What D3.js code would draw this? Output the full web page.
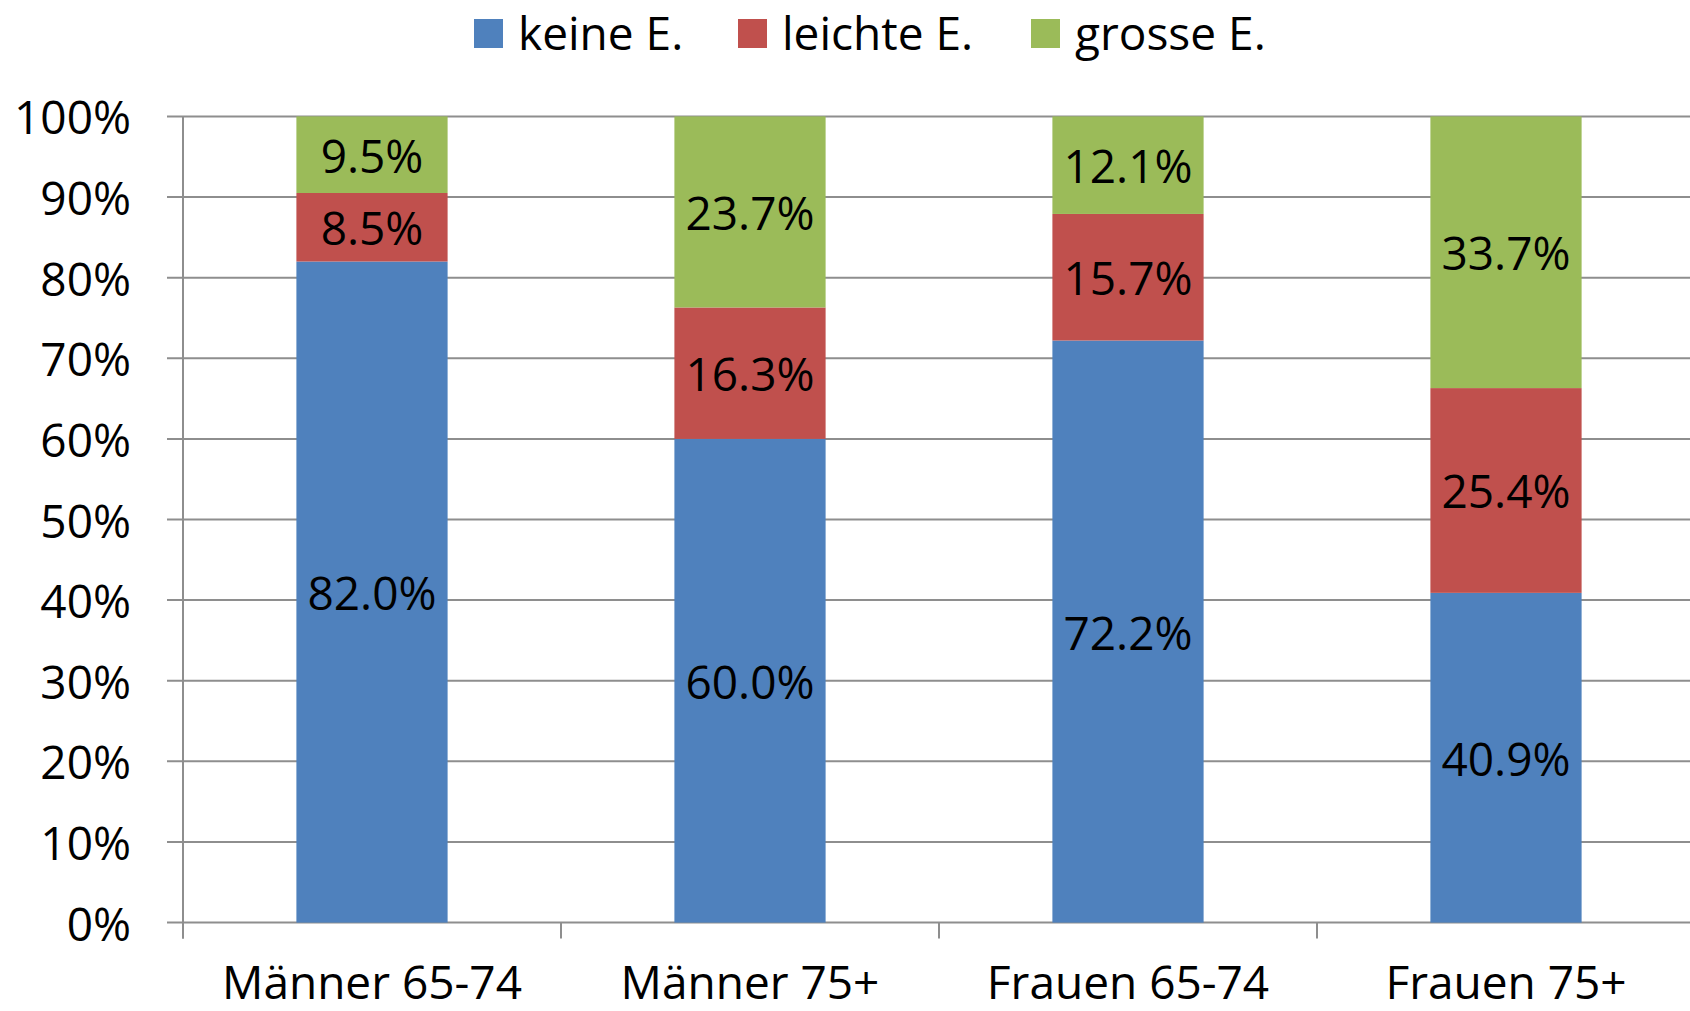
<!DOCTYPE html>
<html><head><meta charset="utf-8">
<script src="https://cdn.jsdelivr.net/npm/d3@7"></script>
<style>html,body{margin:0;padding:0;background:#fff;overflow:hidden}</style>
</head><body>
<svg id="c" width="1690" height="1011"></svg>
<script>
const categories = ["Männer 65-74", "Männer 75+", "Frauen 65-74", "Frauen 75+"];
const seriesNames = ["keine E.", "leichte E.", "grosse E."];
const keine = [82.0, 60.0, 72.2, 40.9];
const leichte = [8.5, 16.3, 15.7, 25.4];
const grosse = [9.5, 23.7, 12.1, 33.7];
const yTicks = [0, 10, 20, 30, 40, 50, 60, 70, 80, 90, 100];
const colors = ["#4F81BD", "#C0504D", "#9BBB59"];

(function () {
const font = "'Open Sans', sans-serif";
const fs = 46;
const svg = d3.select("#c");
const pLeft = 183, pRight = 1695, pTop = 116.4, pBottom = 922.6;

const x = d3.scaleBand().domain(categories).range([pLeft, pRight]).paddingInner(0.6).paddingOuter(0.3);
const xb = d3.scaleBand().domain(categories).range([pLeft, pRight]);
const y = d3.scaleLinear().domain([0, 100]).range([pBottom, pTop]);

svg.append("g").selectAll("line").data(yTicks).join("line")
  .attr("x1", pLeft - 16).attr("x2", pRight)
  .attr("y1", d => y(d)).attr("y2", d => y(d))
  .attr("stroke", "#8e8e8e").attr("stroke-width", 2);

svg.append("line").attr("x1", pLeft).attr("x2", pLeft).attr("y1", pTop).attr("y2", pBottom + 16)
  .attr("stroke", "#8e8e8e").attr("stroke-width", 2);
svg.append("g").selectAll("line").data(categories).join("line")
  .attr("x1", d => xb(d)).attr("x2", d => xb(d))
  .attr("y1", pBottom).attr("y2", pBottom + 16)
  .attr("stroke", "#8e8e8e").attr("stroke-width", 2);

const rows = categories.map((c, i) => ({cat: c, "keine E.": keine[i], "leichte E.": leichte[i], "grosse E.": grosse[i]}));
const stack = d3.stack().keys(seriesNames)(rows);

const g = svg.append("g");
stack.forEach((s, si) => {
  g.selectAll(null).data(s).join("rect")
    .attr("x", d => x(d.data.cat)).attr("width", x.bandwidth())
    .attr("y", d => y(d[1])).attr("height", d => y(d[0]) - y(d[1]))
    .attr("fill", colors[si]);
});
stack.forEach((s, si) => {
  g.selectAll(null).data(s).join("text")
    .attr("x", d => x(d.data.cat) + x.bandwidth() / 2)
    .attr("y", d => (y(d[0]) + y(d[1])) / 2)
    .attr("text-anchor", "middle").attr("dominant-baseline", "central")
    .attr("font-family", font).attr("font-size", fs).attr("fill", "#000")
    .text(d => (d[1] - d[0]).toFixed(1) + "%");
});

svg.append("g").selectAll("text").data(yTicks).join("text")
  .attr("x", 131).attr("y", d => y(d))
  .attr("text-anchor", "end").attr("dominant-baseline", "central")
  .attr("font-family", font).attr("font-size", fs).attr("fill", "#000")
  .text(d => d + "%");

svg.append("g").selectAll("text").data(categories).join("text")
  .attr("x", d => x(d) + x.bandwidth() / 2).attr("y", 999)
  .attr("text-anchor", "middle")
  .attr("font-family", font).attr("font-size", fs).attr("fill", "#000")
  .text(d => d);

const legX = [474, 738, 1031];
const lg = svg.append("g");
seriesNames.forEach((n, i) => {
  lg.append("rect").attr("x", legX[i]).attr("y", 19).attr("width", 29).attr("height", 29).attr("fill", colors[i]);
  lg.append("text").attr("x", legX[i] + 44).attr("y", 50)
    .attr("font-family", font).attr("font-size", fs).attr("fill", "#000").text(n);
});
})();
</script>
</body></html>
